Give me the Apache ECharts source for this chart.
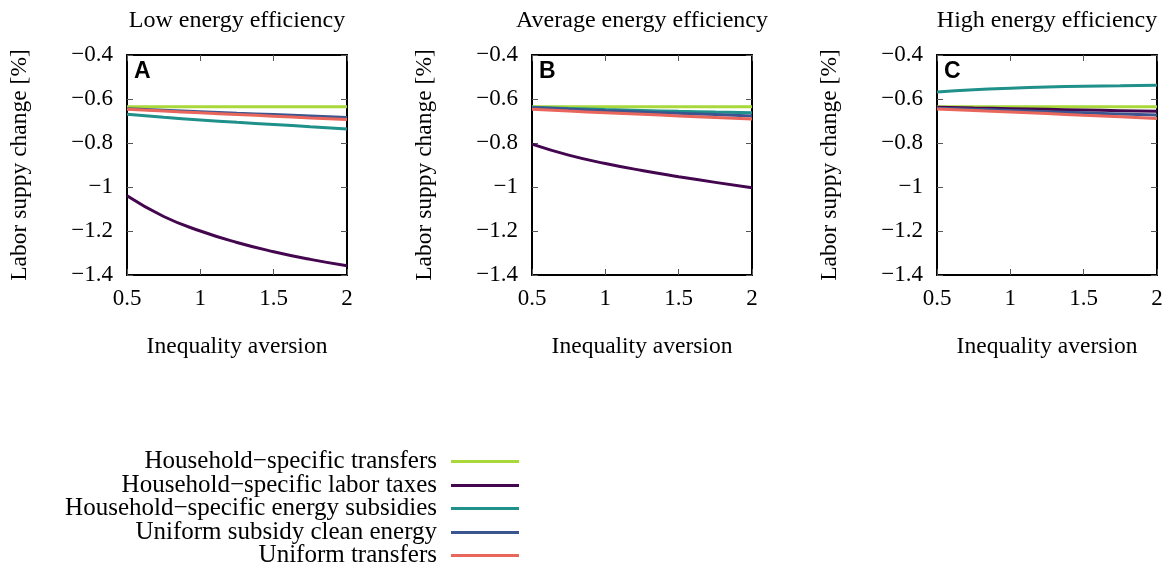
<!DOCTYPE html>
<html>
<head>
<meta charset="utf-8">
<script src="https://cdn.jsdelivr.net/npm/echarts@6/dist/echarts.min.js"></script>
<style>
html,body{margin:0;padding:0;background:#fff;}
#chart{width:1174px;height:567px;}
</style>
</head>
<body>
<div id="chart"></div>
<script>
// ---- data ----
const xValues = [0.5, 0.75, 1.0, 1.25, 1.5, 1.75, 2.0];
const seriesNames = [
  "Household\u2212specific transfers",
  "Household\u2212specific labor taxes",
  "Household\u2212specific energy subsidies",
  "Uniform subsidy clean energy",
  "Uniform transfers"
];
const panelTitles = ["Low energy efficiency", "Average energy efficiency", "High energy efficiency"];
const panelLetters = ["A", "B", "C"];
const xTickLabels = ["0.5", "1", "1.5", "2"];
const yTickLabels = ["\u22121.4", "\u22121.2", "\u22121", "\u22120.8", "\u22120.6", "\u22120.4"];

// Panel A (low efficiency)
const lowTransfers      = [-0.635, -0.635, -0.635, -0.635, -0.635, -0.635, -0.635];
const lowLaborTaxes     = [-1.040, -1.134, -1.200, -1.252, -1.294, -1.329, -1.358];
const lowEnergySubs     = [-0.669, -0.683, -0.695, -0.706, -0.716, -0.726, -0.736];
const lowUniformSubsidy = [-0.644, -0.651, -0.658, -0.665, -0.671, -0.677, -0.684];
const lowUniformTransf  = [-0.647, -0.655, -0.663, -0.670, -0.678, -0.686, -0.693];
// Panel B (average efficiency)
const avgTransfers      = [-0.635, -0.635, -0.635, -0.635, -0.635, -0.635, -0.635];
const avgLaborTaxes     = [-0.805, -0.855, -0.893, -0.925, -0.953, -0.979, -1.003];
const avgEnergySubs     = [-0.637, -0.643, -0.648, -0.652, -0.656, -0.659, -0.662];
const avgUniformSubsidy = [-0.640, -0.646, -0.653, -0.659, -0.665, -0.671, -0.677];
const avgUniformTransf  = [-0.647, -0.655, -0.662, -0.669, -0.677, -0.684, -0.691];
// Panel C (high efficiency)
const highTransfers      = [-0.635, -0.635, -0.635, -0.635, -0.635, -0.635, -0.635];
const highLaborTaxes     = [-0.637, -0.641, -0.644, -0.647, -0.650, -0.653, -0.656];
const highEnergySubs     = [-0.568, -0.558, -0.551, -0.546, -0.542, -0.540, -0.538];
const highUniformSubsidy = [-0.642, -0.647, -0.652, -0.658, -0.663, -0.668, -0.673];
const highUniformTransf  = [-0.645, -0.652, -0.659, -0.666, -0.674, -0.681, -0.689];

const panelData = [
  [lowTransfers, lowLaborTaxes, lowEnergySubs, lowUniformSubsidy, lowUniformTransf],
  [avgTransfers, avgLaborTaxes, avgEnergySubs, avgUniformSubsidy, avgUniformTransf],
  [highTransfers, highLaborTaxes, highEnergySubs, highUniformSubsidy, highUniformTransf]
];

// ---- styles ----
const colors = ["#a8d83a", "#43064f", "#20908a", "#3b5590", "#e8665b"];
const serif = "Liberation Serif";
const gridLefts = [127, 532, 937];
const gridTop = 55, gridW = 220, gridH = 220;

const chart = echarts.init(document.getElementById('chart'));

const grids = [], xAxes = [], yAxes = [], series = [], titles = [];
const tickStyle = {show: true, inside: true, length: 6, lineStyle: {color: '#555', width: 1}};
const lineAx = {show: true, onZero: false, lineStyle: {color: '#000', width: 2}};

for (let p = 0; p < 3; p++) {
  grids.push({left: gridLefts[p], top: gridTop, width: gridW, height: gridH, containLabel: false});
  // bottom x
  xAxes.push({
    type: 'value', gridIndex: p, min: 0.5, max: 2, interval: 0.5, position: 'bottom',
    axisLine: lineAx, axisTick: tickStyle, splitLine: {show: false},
    axisLabel: {margin: 12, fontFamily: serif, fontSize: 23, color: '#000',
      formatter: v => xTickLabels[Math.round((v - 0.5) / 0.5)]},
    name: 'Inequality aversion', nameLocation: 'middle', nameGap: 60,
    nameTextStyle: {fontFamily: serif, fontSize: 23.5, color: '#000'}
  });
  // top x (mirror)
  xAxes.push({
    type: 'value', gridIndex: p, min: 0.5, max: 2, interval: 0.5, position: 'top',
    axisLine: lineAx, axisTick: tickStyle, splitLine: {show: false},
    axisLabel: {show: false}
  });
  // left y
  yAxes.push({
    type: 'value', gridIndex: p, min: -1.4, max: -0.4, interval: 0.2, position: 'left',
    axisLine: lineAx, axisTick: tickStyle, splitLine: {show: false},
    axisLabel: {margin: 14, fontFamily: serif, fontSize: 23, color: '#000',
      formatter: v => yTickLabels[Math.round((v + 1.4) / 0.2)]},
    name: 'Labor suppy change [%]', nameLocation: 'middle', nameGap: 95,
    nameTextStyle: {fontFamily: serif, fontSize: 23.5, color: '#000'}
  });
  // right y (mirror)
  yAxes.push({
    type: 'value', gridIndex: p, min: -1.4, max: -0.4, interval: 0.2, position: 'right',
    axisLine: lineAx, axisTick: tickStyle, splitLine: {show: false},
    axisLabel: {show: false}
  });
  for (let s = 0; s < 5; s++) {
    series.push({
      type: 'line', name: seriesNames[s], xAxisIndex: p * 2, yAxisIndex: p * 2,
      data: xValues.map((x, i) => [x, panelData[p][s][i]]),
      smooth: true, showSymbol: false, symbol: 'none',
      lineStyle: {color: colors[s], width: 3}, itemStyle: {color: colors[s]},
      z: 2 + s
    });
  }
  titles.push({
    text: panelTitles[p], left: gridLefts[p] + gridW / 2, top: 9, textAlign: 'center', padding: 0,
    textStyle: {fontFamily: serif, fontSize: 24, fontWeight: 'normal', color: '#000'}
  });
  titles.push({
    text: panelLetters[p], left: gridLefts[p] + 7, top: 60, padding: 0,
    textStyle: {fontFamily: 'Liberation Sans', fontSize: 23, fontWeight: 'bold', color: '#000'}
  });
}

const legendCenters = [461, 485, 508, 532, 555];
const legends = seriesNames.map((n, i) => ({
  data: [n], orient: 'vertical', right: 655, top: legendCenters[i] - 12,
  align: 'right', icon: 'rect', itemWidth: 68, itemHeight: 3,
  textStyle: {fontFamily: serif, fontSize: 25, lineHeight: 24, color: '#000', padding: [0, 9, 0, 0]},
  padding: 0, selectedMode: false
}));

chart.setOption({
  animation: false,
  backgroundColor: '#fff',
  title: titles,
  legend: legends,
  grid: grids,
  xAxis: xAxes,
  yAxis: yAxes,
  series: series
});
</script>
</body>
</html>
